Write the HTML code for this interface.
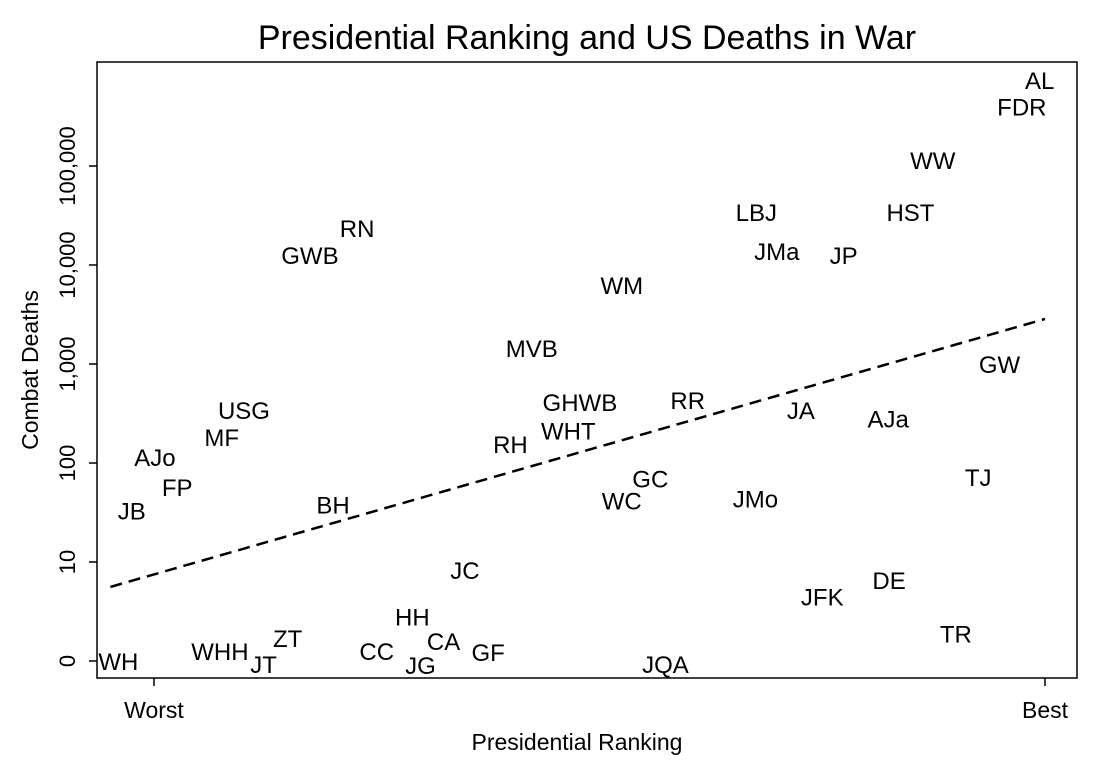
<!DOCTYPE html>
<html><head><meta charset="utf-8"><style>
html,body{margin:0;padding:0;background:#fff;}
svg{display:block;font-family:"Liberation Sans",Arial,sans-serif;}
</style></head><body>
<svg id="chart" width="1120" height="766" viewBox="0 0 1120 766">
<text x="587" y="49" font-size="34" text-anchor="middle">Presidential Ranking and US Deaths in War</text>
<rect x="97" y="62" width="980" height="616" fill="none" stroke="#000" stroke-width="1.5"/>
<g id="axes"></g>
<g id="marks"></g>
<text x="577" y="750" font-size="23" text-anchor="middle">Presidential Ranking</text>
<text transform="translate(38,370) rotate(-90)" font-size="23" text-anchor="middle">Combat Deaths</text>
</svg>
<script>
const labels=["AL","FDR","WW","HST","LBJ","JMa","JP","RN","GWB","WM","MVB","GW","GHWB","RR","JA","AJa","USG","MF","WHT","RH","AJo","TJ","GC","FP","WC","JMo","JB","BH","JC","DE","JFK","HH","ZT","CA","TR","CC","WHH","GF","WH","JT","JG","JQA"];
const ranking=[99.4,97.4,87.4,84.9,67.6,69.9,77.4,22.8,17.5,52.5,42.4,94.9,47.8,59.9,72.6,82.4,10.1,7.6,46.5,40.0,0.1,92.5,55.7,2.6,52.5,67.5,-2.5,20.1,34.9,82.5,75.0,29.0,15.0,32.5,90.0,25.0,7.4,37.5,-4.0,12.3,29.9,57.4];
const deaths=[741000,398000,115000,34300,34300,13800,12600,23600,12600,6300,1450,1000,415,435,343,283,343,183,214,155,115,72,70,57,42,44,33,38,8.3,6.6,4.5,2.8,1.7,1.6,1.9,1.26,1.26,1.23,1,0.93,0.91,0.93];
const yTickValues=[1,10,100,1000,10000,100000];
const yTickLabels=["0","10","100","1,000","10,000","100,000"];
const xTickValues=[0,100];
const xTickLabels=["Worst","Best"];
const fitX=[-4.9,100];
const fitY=[5.6,2850];
const NS="http://www.w3.org/2000/svg";
function xs(v){return 154+8.91*v;}
function ys(v){return 661-99*Math.log10(Math.max(v,0.5));}
function mk(tag,attrs,parent){const e=document.createElementNS(NS,tag);for(const k in attrs)e.setAttribute(k,attrs[k]);parent.appendChild(e);return e;}
const axes=document.getElementById('axes'),marks=document.getElementById('marks');
yTickValues.forEach((v,i)=>{const y=ys(v);
 const t=mk('line',{x1:89,x2:97,y1:y,y2:y,stroke:'#000','stroke-width':1.5},axes);
 
 
 const l=mk('text',{transform:`translate(75,${y}) rotate(-90)`,'font-size':22,'text-anchor':'middle'},axes);
 l.textContent=yTickLabels[i];
 
 
});
xTickValues.forEach((v,i)=>{const x=xs(v);
 const t=mk('line',{x1:x,x2:x,y1:678,y2:686,stroke:'#000','stroke-width':1.5},axes);
 
 
 const l=mk('text',{x:x,y:718,'font-size':23,'text-anchor':'middle'},axes);
 l.textContent=xTickLabels[i];
 
 
});
const fl=mk('line',{x1:xs(fitX[0]),y1:ys(fitY[0]),x2:xs(fitX[1]),y2:ys(fitY[1]),stroke:'#000','stroke-width':2.5,'stroke-dasharray':'12,7'},marks);


labels.forEach((s,i)=>{
 const t=mk('text',{x:xs(ranking[i]),y:ys(deaths[i])+9,'font-size':24,'text-anchor':'middle'},marks);
 t.textContent=s;
 
 
});
</script>
</body></html>
